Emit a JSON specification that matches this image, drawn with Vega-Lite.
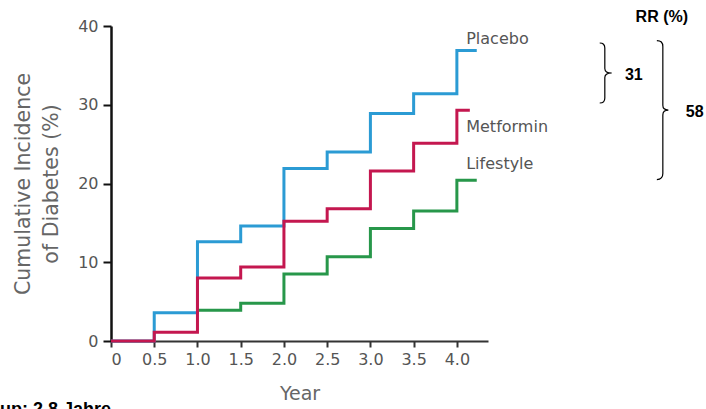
{
  "$schema": "https://vega.github.io/schema/vega-lite/v6.json",
  "width": 377,
  "height": 315,
  "autosize": {"type": "none"},
  "padding": {"left": 111, "top": 26, "right": 218, "bottom": 68},
  "background": "white",
  "config": {
    "view": {"stroke": null},
    "font": "DejaVu Sans"
  },
  "datasets": {
    "curves": [
      {"group": "Placebo", "year": 0, "pct": 0},
      {"group": "Placebo", "year": 0.5, "pct": 3.6},
      {"group": "Placebo", "year": 1.0, "pct": 12.6},
      {"group": "Placebo", "year": 1.5, "pct": 14.6},
      {"group": "Placebo", "year": 2.0, "pct": 21.9},
      {"group": "Placebo", "year": 2.5, "pct": 24.0},
      {"group": "Placebo", "year": 3.0, "pct": 28.9},
      {"group": "Placebo", "year": 3.5, "pct": 31.4},
      {"group": "Placebo", "year": 4.0, "pct": 36.9},
      {"group": "Placebo", "year": 4.23, "pct": 36.9},
      {"group": "Lifestyle", "year": 1.0, "pct": 3.9},
      {"group": "Lifestyle", "year": 1.5, "pct": 4.8},
      {"group": "Lifestyle", "year": 2.0, "pct": 8.5},
      {"group": "Lifestyle", "year": 2.5, "pct": 10.7},
      {"group": "Lifestyle", "year": 3.0, "pct": 14.3},
      {"group": "Lifestyle", "year": 3.5, "pct": 16.5},
      {"group": "Lifestyle", "year": 4.0, "pct": 20.4},
      {"group": "Lifestyle", "year": 4.23, "pct": 20.4},
      {"group": "Metformin", "year": 0, "pct": 0},
      {"group": "Metformin", "year": 0.5, "pct": 1.1},
      {"group": "Metformin", "year": 1.0, "pct": 8.0},
      {"group": "Metformin", "year": 1.5, "pct": 9.4},
      {"group": "Metformin", "year": 2.0, "pct": 15.2},
      {"group": "Metformin", "year": 2.5, "pct": 16.8},
      {"group": "Metformin", "year": 3.0, "pct": 21.6},
      {"group": "Metformin", "year": 3.5, "pct": 25.1},
      {"group": "Metformin", "year": 4.0, "pct": 29.3},
      {"group": "Metformin", "year": 4.15, "pct": 29.3}
    ],
    "one": [{}]
  },
  "layer": [
    {
      "data": {"name": "curves"},
      "mark": {"type": "line", "interpolate": "step-after", "strokeWidth": 3, "clip": false},
      "encoding": {
        "x": {
          "field": "year", "type": "quantitative",
          "scale": {"domain": [0, 4.36], "nice": false, "zero": false},
          "axis": {
            "title": "Year",
            "values": [0, 0.5, 1, 1.5, 2, 2.5, 3, 3.5, 4],
            "labelExpr": "datum.value == 0 ? '0' : format(datum.value, '.1f')",
            "grid": false,
            "domainColor": "#333333", "domainWidth": 2,
            "tickColor": "#333333", "tickWidth": 2, "tickSize": 6,
            "labelColor": "#555555", "labelFontSize": 16, "labelPadding": 4,
            "labelFont": "DejaVu Sans",
            "titleColor": "#666666", "titleFontSize": 19, "titleFontWeight": "normal",
            "titleFont": "DejaVu Sans", "titlePadding": 17
          }
        },
        "y": {
          "field": "pct", "type": "quantitative",
          "scale": {"domain": [0, 40], "nice": false},
          "axis": {
            "title": ["Cumulative Incidence", "of Diabetes (%)"],
            "values": [0, 5, 10, 15, 20, 25, 30, 35, 40],
            "labelExpr": "datum.value % 10 == 0 ? datum.label : ''",
            "grid": false,
            "domainColor": "#111111", "domainWidth": 2.5,
            "tickColor": "#111111", "tickWidth": 2, "tickSize": 8,
            "labelColor": "#555555", "labelFontSize": 16, "labelPadding": 5,
            "labelFont": "DejaVu Sans",
            "titleColor": "#666666", "titleFontSize": 20.5, "titleFontWeight": "normal",
            "titleFont": "DejaVu Sans", "titlePadding": 16, "titleLineHeight": 28
          }
        },
        "color": {
          "field": "group", "type": "nominal",
          "scale": {"domain": ["Placebo", "Lifestyle", "Metformin"], "range": ["#2b9bd4", "#27974a", "#c4174f"]},
          "legend": null
        }
      }
    },
    {
      "data": {"name": "one"},
      "mark": {"type": "text", "text": "Placebo", "align": "left", "baseline": "middle", "fontSize": 16, "color": "#555555", "font": "DejaVu Sans"},
      "encoding": {"x": {"datum": 4.108}, "y": {"datum": 38.35}}
    },
    {
      "data": {"name": "one"},
      "mark": {"type": "text", "text": "Metformin", "align": "left", "baseline": "middle", "fontSize": 16, "color": "#555555", "font": "DejaVu Sans"},
      "encoding": {"x": {"datum": 4.108}, "y": {"datum": 27.17}}
    },
    {
      "data": {"name": "one"},
      "mark": {"type": "text", "text": "Lifestyle", "align": "left", "baseline": "middle", "fontSize": 16, "color": "#555555", "font": "DejaVu Sans"},
      "encoding": {"x": {"datum": 4.108}, "y": {"datum": 22.48}}
    },
    {
      "data": {"name": "one"},
      "mark": {"type": "text", "text": "RR (%)", "align": "center", "baseline": "middle", "fontSize": 16, "fontWeight": "bold", "color": "#000000", "font": "Liberation Sans"},
      "encoding": {"x": {"datum": 6.37}, "y": {"datum": 41.14}}
    },
    {
      "data": {"name": "one"},
      "mark": {"type": "text", "text": "31", "align": "center", "baseline": "middle", "fontSize": 16, "fontWeight": "bold", "color": "#000000", "font": "Liberation Sans"},
      "encoding": {"x": {"datum": 6.046}, "y": {"datum": 33.78}}
    },
    {
      "data": {"name": "one"},
      "mark": {"type": "text", "text": "58", "align": "center", "baseline": "middle", "fontSize": 16, "fontWeight": "bold", "color": "#000000", "font": "Liberation Sans"},
      "encoding": {"x": {"datum": 6.751}, "y": {"datum": 29.08}}
    },
    {
      "data": {"name": "one"},
      "mark": {"type": "point", "shape": "M -0.17 -1 Q 0 -1 0 -0.83 L 0 -0.15 Q 0 0 0.23 0 Q 0 0 0 0.15 L 0 0.83 Q 0 1 -0.17 1", "size": 3600, "filled": false, "color": "#000000", "strokeWidth": 1.2, "opacity": 1},
      "encoding": {"x": {"datum": 5.711}, "y": {"datum": 34.03}}
    },
    {
      "data": {"name": "one"},
      "mark": {"type": "point", "shape": "M -0.086 -1 Q 0 -1 0 -0.914 L 0 -0.07 Q 0 0 0.08 0 Q 0 0 0 0.07 L 0 0.914 Q 0 1 -0.086 1", "size": 19321, "filled": false, "color": "#000000", "strokeWidth": 1.2, "opacity": 1},
      "encoding": {"x": {"datum": 6.382}, "y": {"datum": 29.33}}
    },
    {
      "data": {"name": "one"},
      "mark": {"type": "text", "text": "Follow-up: 2,8 Jahre", "align": "right", "baseline": "alphabetic", "fontSize": 18, "fontWeight": "bold", "color": "#000000", "font": "Liberation Sans"},
      "encoding": {"x": {"datum": 0}, "y": {"datum": -9.4}}
    }
  ]
}
